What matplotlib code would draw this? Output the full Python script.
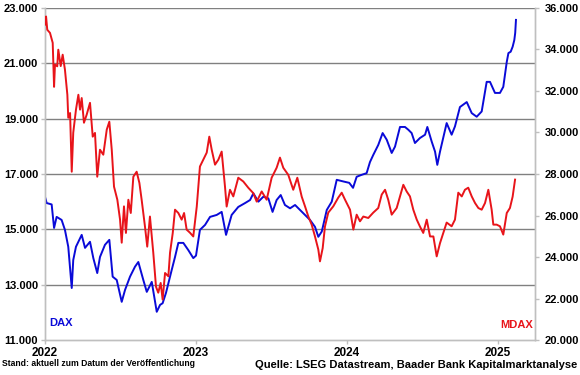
import matplotlib
matplotlib.use("Agg")
import matplotlib.pyplot as plt
from matplotlib.ticker import FuncFormatter, FixedLocator

plt.rcParams["font.family"] = ["Liberation Sans", "DejaVu Sans"]

# DAX (left axis), date as decimal year
DAX_T = [2022.000, 2022.011, 2022.044, 2022.060, 2022.077, 2022.110, 2022.132, 2022.154,
         2022.177, 2022.187, 2022.205, 2022.243, 2022.265, 2022.298, 2022.320, 2022.346,
         2022.364, 2022.397, 2022.426, 2022.448, 2022.475, 2022.508, 2022.530, 2022.563,
         2022.596, 2022.618, 2022.651, 2022.674, 2022.707, 2022.740, 2022.762, 2022.779,
         2022.801, 2022.839, 2022.861, 2022.883, 2022.916, 2022.949, 2022.982, 2023.000,
         2023.026, 2023.060, 2023.093, 2023.137, 2023.170, 2023.199, 2023.236, 2023.280,
         2023.325, 2023.358, 2023.380, 2023.413, 2023.446, 2023.479, 2023.507, 2023.534,
         2023.561, 2023.589, 2023.623, 2023.656, 2023.689, 2023.722, 2023.755, 2023.788,
         2023.810, 2023.833, 2023.866, 2023.899, 2023.932, 2023.976, 2024.015, 2024.040,
         2024.064, 2024.097, 2024.130, 2024.152, 2024.174, 2024.207, 2024.236, 2024.263,
         2024.296, 2024.318, 2024.351, 2024.384, 2024.406, 2024.428, 2024.450, 2024.483,
         2024.517, 2024.532, 2024.561, 2024.583, 2024.598, 2024.616, 2024.660, 2024.693,
         2024.715, 2024.748, 2024.793, 2024.826, 2024.859, 2024.892, 2024.925, 2024.947,
         2024.980, 2025.013, 2025.035, 2025.058, 2025.069, 2025.084, 2025.097, 2025.108,
         2025.114, 2025.119]
DAX_V = [16170, 15950, 15900, 15050, 15450, 15340, 14980, 14370,
         12880, 13890, 14370, 14800, 14330, 14550, 13960, 13420,
         14000, 14440, 14620, 13290, 13170, 12380, 12810, 13290,
         13650, 13820, 13170, 12740, 13100, 12020, 12270, 12330,
         12700, 13530, 14000, 14510, 14510, 14250, 13960, 14050,
         14980, 15160, 15450, 15520, 15630, 14800, 15520, 15810,
         15950, 16060, 16300, 16000, 16180, 16120, 15630, 16060,
         16240, 15880, 15760, 15880, 15700, 15520, 15340, 15090,
         14730, 14920, 15700, 16000, 16790, 16730, 16680, 16500,
         16900, 16970, 17030, 17430, 17690, 18050, 18480, 18240,
         17760, 17990, 18700, 18700, 18600, 18480, 18120, 18300,
         18420, 18700, 18170, 17810, 17330, 17810, 18840, 18420,
         18720, 19420, 19600, 19200, 19070, 19260, 20330, 20330,
         19930, 19930, 20150, 21050, 21370, 21420, 21600, 21840,
         22100, 22570]

# MDAX (right axis)
MDAX_T = [2022.000, 2022.007, 2022.015, 2022.033, 2022.051, 2022.060, 2022.066, 2022.081,
          2022.088, 2022.104, 2022.117, 2022.132, 2022.148, 2022.154, 2022.166, 2022.177,
          2022.187, 2022.205, 2022.221, 2022.232, 2022.243, 2022.258, 2022.276, 2022.298,
          2022.316, 2022.331, 2022.346, 2022.364, 2022.386, 2022.409, 2022.426, 2022.442,
          2022.457, 2022.479, 2022.497, 2022.508, 2022.523, 2022.536, 2022.552, 2022.568,
          2022.585, 2022.607, 2022.625, 2022.640, 2022.662, 2022.677, 2022.695, 2022.717,
          2022.735, 2022.750, 2022.766, 2022.779, 2022.795, 2022.817, 2022.828, 2022.846,
          2022.861, 2022.883, 2022.905, 2022.921, 2022.938, 2022.960, 2022.982, 2023.005,
          2023.026, 2023.048, 2023.071, 2023.088, 2023.104, 2023.126, 2023.148, 2023.170,
          2023.192, 2023.203, 2023.225, 2023.247, 2023.280, 2023.313, 2023.346, 2023.379,
          2023.402, 2023.435, 2023.468, 2023.501, 2023.534, 2023.556, 2023.578, 2023.611,
          2023.644, 2023.671, 2023.700, 2023.722, 2023.744, 2023.766, 2023.788, 2023.810,
          2023.821, 2023.839, 2023.854, 2023.876, 2023.909, 2023.942, 2023.965, 2023.987,
          2024.020, 2024.042, 2024.064, 2024.086, 2024.108, 2024.141, 2024.174, 2024.207,
          2024.230, 2024.252, 2024.273, 2024.296, 2024.329, 2024.351, 2024.373, 2024.395,
          2024.417, 2024.439, 2024.462, 2024.483, 2024.505, 2024.528, 2024.550, 2024.572,
          2024.594, 2024.616, 2024.638, 2024.660, 2024.693, 2024.715, 2024.737, 2024.760,
          2024.781, 2024.803, 2024.826, 2024.848, 2024.870, 2024.892, 2024.914, 2024.936,
          2024.958, 2024.969, 2024.991, 2025.013, 2025.035, 2025.058, 2025.079, 2025.097,
          2025.113]
MDAX_V = [35200, 35590, 34950, 34800, 34320, 32200, 33270, 33190,
          33990, 33200, 33750, 33030, 31820, 30710, 30940, 28110,
          29990, 31100, 31820, 31100, 31660, 30470, 30860, 31430,
          29800, 29980, 27870, 29170, 28930, 30140, 30520, 29170,
          27390, 26760, 25800, 24690, 26440, 25160, 26760, 26120,
          27870, 28110, 27570, 26760, 25470, 24500, 25950, 24210,
          22570, 22280, 22750, 21950, 23230, 23070, 24210, 25160,
          26280, 26120, 25800, 26120, 25320, 25170, 24990, 26430,
          28360, 28690, 29030, 29800, 29170, 28450, 28690, 29080,
          27390, 26430, 27240, 26920, 27820, 27640, 27340, 27080,
          26670, 27160, 26760, 27820, 28300, 28790, 28300, 27960,
          27240, 27820, 26910, 26440, 25950, 25560, 24990, 24360,
          23790, 24430, 25470, 26140, 26440, 26860, 27100, 26760,
          26280, 25320, 26040, 25720, 25950, 25880, 26140, 26360,
          27010, 27240, 26760, 26040, 26360, 26920, 27480, 27160,
          26920, 26280, 25800, 25470, 25160, 25800, 24990, 24990,
          24030, 24670, 25160, 25660, 25480, 25800, 27100, 26920,
          27240, 27340, 26920, 26600, 26360, 26280, 26600, 27240,
          26280, 25560, 25560, 25480, 25080, 26120, 26360, 26910,
          27730]

LEFT_TICKS = [11000, 13000, 15000, 17000, 19000, 21000, 23000]
RIGHT_TICKS = [20000, 22000, 24000, 26000, 28000, 30000, 32000, 34000, 36000]
YEARS = [2022, 2023, 2024, 2025]

BLUE = "#0A0AD8"
RED = "#E8141A"
GRID = "#808080"
SPINE = "#BFBFBF"


def thousands(v, _pos):
    return f"{int(v):,}".replace(",", ".")


fig = plt.figure(figsize=(5.8, 3.75), dpi=100)
ax = fig.add_axes([0.0776, 0.0933, 0.8448, 0.8854])
ax2 = ax.twinx()

ax.plot(DAX_T, DAX_V, color=BLUE, lw=1.4, zorder=3)
ax2.plot(MDAX_T, MDAX_V, color=RED, lw=1.4, zorder=3)

ax.set_xlim(2022, 2025.245)
ax.set_ylim(11000, 23000)
ax2.set_ylim(20000, 36000)

ax.yaxis.set_major_locator(FixedLocator(LEFT_TICKS))
ax2.yaxis.set_major_locator(FixedLocator(RIGHT_TICKS))
ax.yaxis.set_major_formatter(FuncFormatter(thousands))
ax2.yaxis.set_major_formatter(FuncFormatter(thousands))
ax.set_xticks(YEARS)
ax.set_xticklabels([str(y) for y in YEARS])

for y in LEFT_TICKS[1:]:
    ax.axhline(y, color=GRID, lw=1.0, zorder=1)

for a in (ax, ax2):
    a.spines["top"].set_visible(False)
    for s in ("left", "right", "bottom"):
        a.spines[s].set_color(SPINE)
        a.spines[s].set_linewidth(1.0)
    a.tick_params(colors=SPINE, length=3, width=1.0, labelcolor="black",
                  labelsize=8)
    for lab in a.get_yticklabels() + a.get_xticklabels():
        lab.set_fontweight("bold")

ax.tick_params(axis="y", pad=2)
ax2.tick_params(axis="y", pad=4)
ax.tick_params(axis="x", pad=2, labelsize=8.5)
ax2.set_zorder(ax.get_zorder() + 1)
ax2.patch.set_visible(False)

ax.text(0.008, 0.035, "DAX", transform=ax.transAxes, color=BLUE,
        fontsize=8, fontweight="bold", ha="left", va="bottom")
ax.text(0.995, 0.03, "MDAX", transform=ax.transAxes, color=RED,
        fontsize=8, fontweight="bold", ha="right", va="bottom")

fig.text(0.004, 0.018, "Stand: aktuell zum Datum der Veröffentlichung",
         fontsize=6.2, fontweight="bold", ha="left", va="bottom")
fig.text(0.995, 0.014, "Quelle: LSEG Datastream, Baader Bank Kapitalmarktanalyse",
         fontsize=8, fontweight="bold", ha="right", va="bottom")

fig.savefig("out.png", dpi=100, facecolor="white")
